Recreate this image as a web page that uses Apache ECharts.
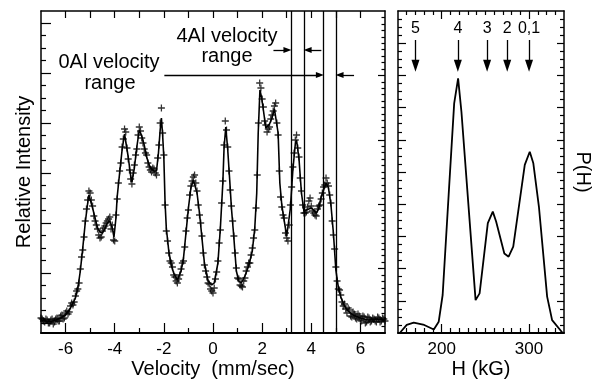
<!DOCTYPE html>
<html><head><meta charset="utf-8">
<script src="https://cdn.jsdelivr.net/npm/echarts@6/dist/echarts.min.js"></script>
<style>html,body{margin:0;padding:0;background:#fff}#c{width:595px;height:381px}</style>
</head><body><div id="c"></div>
<script>
// ---------- DATA ----------
// Left panel: Mossbauer spectrum (velocity mm/s, relative intensity in arbitrary units)
const fitCurve = [
 [-7.0,13],[-6.8,12],[-6.6,11.5],[-6.4,13],[-6.2,15],[-6.0,18],[-5.8,25],[-5.6,35],[-5.5,45],[-5.4,62],
 [-5.3,85],[-5.2,110],[-5.1,130],[-5.05,138],[-5.0,136],[-4.9,125],[-4.8,115],[-4.7,105],[-4.6,101],[-4.5,100],
 [-4.4,104],[-4.3,110],[-4.2,112],[-4.1,105],[-4.03,96],[-3.95,115],[-3.9,136],[-3.8,160],[-3.7,183],[-3.6,199],
 [-3.55,198],[-3.45,176],[-3.35,157],[-3.3,151],[-3.2,165],[-3.1,186],[-3.0,203],[-2.9,197],[-2.8,188],[-2.7,176],
 [-2.6,168],[-2.5,164],[-2.4,162],[-2.3,162],[-2.22,180],[-2.15,203],[-2.1,215],[-2.05,198],[-2.0,175],[-1.95,130],
 [-1.9,105],[-1.8,82],[-1.7,68],[-1.6,60],[-1.45,53],[-1.3,62],[-1.2,75],[-1.1,100],[-1.0,125],[-0.9,145],
 [-0.8,153],[-0.75,155],[-0.65,140],[-0.55,120],[-0.45,95],[-0.35,70],[-0.2,52],[-0.05,48],[0.05,50],[0.2,70],
 [0.3,105],[0.4,150],[0.45,185],[0.52,206],[0.6,183],[0.68,153],[0.75,125],[0.85,95],[0.95,62],[1.05,52],
 [1.15,50],[1.3,57],[1.45,67],[1.6,82],[1.7,105],[1.78,140],[1.84,200],[1.91,243],[1.98,235],[2.05,223],
 [2.15,205],[2.2,204],[2.3,209],[2.4,215],[2.5,224],[2.55,225],[2.65,200],[2.72,150],[2.8,128],[2.9,112],
 [3.0,97],[3.05,96],[3.15,125],[3.25,163],[3.35,189],[3.4,193],[3.5,174],[3.6,140],[3.7,122],[3.8,123],
 [3.9,124],[4.0,125],[4.1,123],[4.2,120],[4.3,124],[4.4,136],[4.5,143],[4.6,150],[4.7,145],[4.8,128],
 [4.9,100],[5.0,63],[5.1,46],[5.2,36],[5.35,27],[5.5,22],[5.7,18],[6.0,15],[6.3,13],[6.7,14],[7.0,13]
];
const dataPointsA = [
 [-6.95,14],[-6.85,11],[-6.75,13],[-6.65,10],[-6.55,14],[-6.45,11],[-6.35,15],[-6.25,12],[-6.15,18],[-6.05,15],
 [-5.95,22],[-5.85,21],[-5.75,30],[-5.65,31],[-5.55,42],[-5.45,50],[-5.35,76],[-5.25,96],[-5.15,124],[-5.05,142],
 [-4.95,133],[-4.85,117],[-4.75,108],[-4.65,98],[-4.55,96],[-4.45,105],[-4.35,110],[-4.25,114],[-4.15,104],[-4.05,93],
 [-3.95,118],[-3.85,150],[-3.75,170],[-3.65,194],[-3.55,201],[-3.45,174],[-3.35,154],[-3.25,160],[-3.15,178],[-3.05,198],
 [-2.95,202],[-2.85,190],[-2.75,180],[-2.65,170],[-2.55,163],[-2.45,165],[-2.35,160],[-2.25,175],[-2.15,210],[-2.05,200],
 [-1.95,128],[-1.85,92],[-1.75,72],[-1.65,66],[-1.55,56],[-1.45,50],[-1.35,58],[-1.25,70],[-1.15,86],[-1.05,115],
 [-0.95,138],[-0.85,152],[-0.75,158],[-0.65,142],[-0.55,118],[-0.45,97],[-0.35,68],[-0.25,56],[-0.15,49],[-0.05,42],
 [0.05,45],[0.15,61],[0.25,90],[0.35,130],[0.45,188],[0.55,203],[0.65,162],[0.75,127],[0.85,97],[0.95,65],
 [1.05,54],[1.15,47],[1.25,52],[1.35,62],[1.45,70],[1.55,78],[1.65,95],[1.75,125],[1.85,210],[1.95,245],
 [2.05,226],[2.15,208],[2.25,204],[2.35,214],[2.45,222],[2.55,230],[2.65,198],[2.75,136],[2.85,118],[2.95,100],
 [3.05,92],[3.15,128],[3.25,166],[3.35,193],[3.45,185],[3.55,155],[3.65,128],[3.75,120],[3.85,126],[3.95,135],
 [4.05,122],[4.15,118],[4.25,124],[4.35,128],[4.45,140],[4.55,148],[4.65,150],[4.75,138],[4.85,112],[4.95,84],
 [5.05,52],[5.15,43],[5.25,31],[5.35,29],[5.45,20],[5.55,23],[5.65,16],[5.75,19],[5.85,14],[5.95,17],
 [6.05,12],[6.15,16],[6.25,11],[6.35,15],[6.45,12],[6.55,14],[6.65,11],[6.75,15],[6.85,12],[6.95,14]
];
const dataPointsB = [
 [-7.0,15],[-6.9,12],[-6.8,14],[-6.7,10],[-6.6,13],[-6.5,9],[-6.4,14],[-6.3,12],[-6.2,17],[-6.1,14],
 [-6.0,20],[-5.9,19],[-5.8,27],[-5.7,28],[-5.6,37],[-5.5,44],[-5.4,64],[-5.3,83],[-5.2,112],[-5.1,133],
 [-5.0,140],[-4.9,127],[-4.8,112],[-4.7,104],[-4.6,95],[-4.5,102],[-4.4,107],[-4.3,112],[-4.2,116],[-4.1,108],
 [-4.0,92],[-3.9,134],[-3.8,162],[-3.7,186],[-3.6,204],[-3.5,185],[-3.4,163],[-3.3,149],[-3.2,168],[-3.1,184],
 [-3.0,206],[-2.9,195],[-2.8,184],[-2.7,178],[-2.6,166],[-2.5,161],[-2.4,164],[-2.3,158],[-2.2,188],[-2.1,225],
 [-2.0,178],[-1.9,102],[-1.8,80],[-1.7,70],[-1.6,58],[-1.5,52],[-1.4,54],[-1.3,64],[-1.2,72],[-1.1,102],
 [-1.0,123],[-0.9,147],[-0.8,156],[-0.7,150],[-0.6,128],[-0.5,110],[-0.4,80],[-0.3,62],[-0.2,50],[-0.1,44],
 [0.0,40],[0.1,54],[0.2,72],[0.3,103],[0.4,152],[0.5,212],[0.6,186],[0.7,143],[0.8,112],[0.9,80],
 [1.0,55],[1.1,48],[1.2,46],[1.3,55],[1.4,66],[1.5,70],[1.6,85],[1.7,103],[1.8,158],[1.9,250],
 [2.0,234],[2.1,212],[2.2,201],[2.3,206],[2.4,218],[2.5,227],[2.6,210],[2.7,162],[2.8,126],[2.9,115],
 [3.0,95],[3.1,108],[3.2,146],[3.3,180],[3.4,198],[3.5,176],[3.6,142],[3.7,120],[3.8,121],[3.9,132],
 [4.0,127],[4.1,120],[4.2,117],[4.3,127],[4.4,134],[4.5,146],[4.6,155],[4.7,147],[4.8,130],[4.9,98],
 [5.0,66],[5.1,44],[5.2,38],[5.3,27],[5.4,24],[5.5,25],[5.6,17],[5.7,21],[5.8,15],[5.9,19],
 [6.0,13],[6.1,17],[6.2,10],[6.3,16],[6.4,11],[6.5,15],[6.6,12],[6.7,16],[6.8,11],[6.9,15],[7.0,12]
];
const velocityRangeLines = [3.2, 3.7, 4.5, 5.0];
const velTickLabels = [-6, -4, -2, 0, 2, 4, 6];
const velMinorTicks = [-5, -3, -1, 1, 3, 5];
// annotation arrows [fromVel, toVel, intensityLevel]
const arrows4Al = [[2.46, 3.03, 283], [4.41, 3.85, 283]];
const arrows0Al = [[-1.98, 4.35, 258], [5.74, 5.15, 258]];

// Right panel: hyperfine field distribution P(H)
const hField = [152, 160, 168, 180, 191, 196.6, 201.1, 208, 214.3, 218.8, 222.6, 238.8, 243.4, 252.8, 258.5, 262.3, 271.7, 276.6, 281.9, 295.1, 300.8, 304.9, 311.3, 320.7, 326.4, 338.5];
const pH     = [0,   0.25, 0.32, 0.25, 0.11, 0.35, 1.18, 4.3, 7.13, 7.91, 6.87, 1.02, 1.23, 3.41, 3.77, 3.46, 2.47, 2.37, 2.68, 5.22, 5.63, 5.27, 3.92, 1.13, 0.40, 0];
const hTickLabels = [200, 300];
const siteH = [170, 218.5, 252, 275, 300];
const siteLabels = ['5', '4', '3', '2', '0,1'];

// ---------- CHART ----------
const FONT = '"Liberation Sans", Arial, Helvetica, sans-serif';
const BLACK = '#000';
function steps(a, b, s, exclude) {
  const out = [];
  for (let v = a; v <= b + 1e-9; v += s) {
    const r = Math.round(v * 1000) / 1000;
    if (!exclude || !exclude.some(e => Math.abs(e - r) < 1e-6)) out.push(r);
  }
  return out;
}
const noLabel = { show: false };
function axis(base, extra) { return Object.assign({ type: 'value', splitLine: { show: false }, axisLabel: noLabel, axisPointer: { show: false } }, base, extra); }
function line(show, w) { return { show: show, onZero: false, lineStyle: { color: BLACK, width: w || 1.5 } }; }
function ticks(vals, len, w) { return { show: true, inside: true, length: len, customValues: vals, lineStyle: { color: BLACK, width: w || 1.2 } }; }

const leftYMajor = steps(10, 310, 50);
const leftYMinor = steps(22.5, 322, 12.5, leftYMajor);
const rightSideMajor = steps(64.4, 257.6, 64.4);
const rightSideMinor = steps(6.44, 316, 6.44, rightSideMajor);
const hMinor = steps(160, 330, 10, hTickLabels);
const pMajor = steps(1, 9, 1);
const pMinor = steps(0.25, 9.75, 0.25, pMajor);

const xAxes = [
  axis({ gridIndex: 0, position: 'bottom', min: -7, max: 7 }, {
    axisLine: line(true, 2), axisTick: ticks(velTickLabels, 10),
    axisLabel: { show: true, customValues: velTickLabels, margin: 8, fontSize: 17, color: BLACK, fontFamily: FONT } }),
  axis({ gridIndex: 0, position: 'bottom', min: -7, max: 7 }, { axisLine: line(false), axisTick: ticks(velMinorTicks, 5) }),
  axis({ gridIndex: 0, position: 'top', min: -7, max: 7 }, { axisLine: line(true), axisTick: ticks(steps(-6, 6, 1), 7) }),
  axis({ gridIndex: 1, position: 'bottom', min: 150, max: 340 }, {
    axisLine: line(true, 2), axisTick: ticks(hTickLabels, 9),
    axisLabel: { show: true, customValues: hTickLabels, margin: 8, fontSize: 17, color: BLACK, fontFamily: FONT } }),
  axis({ gridIndex: 1, position: 'bottom', min: 150, max: 340 }, { axisLine: line(false), axisTick: ticks(hMinor, 5) }),
  axis({ gridIndex: 1, position: 'top', min: 150, max: 340 }, { axisLine: line(true), axisTick: ticks(hTickLabels, 8) }),
  axis({ gridIndex: 1, position: 'top', min: 150, max: 340 }, { axisLine: line(false), axisTick: ticks(hMinor, 4) })
];
const yAxes = [
  axis({ gridIndex: 0, position: 'left', min: 0, max: 322 }, { axisLine: line(true), axisTick: ticks(leftYMajor, 10) }),
  axis({ gridIndex: 0, position: 'left', min: 0, max: 322 }, { axisLine: line(false), axisTick: ticks(leftYMinor, 5) }),
  axis({ gridIndex: 0, position: 'right', min: 0, max: 322 }, { axisLine: line(true), axisTick: ticks(rightSideMajor, 7) }),
  axis({ gridIndex: 0, position: 'right', min: 0, max: 322 }, { axisLine: line(false), axisTick: ticks(rightSideMinor, 3.5) }),
  axis({ gridIndex: 1, position: 'left', min: 0, max: 10 }, { axisLine: line(true), axisTick: ticks(pMajor, 8) }),
  axis({ gridIndex: 1, position: 'left', min: 0, max: 10 }, { axisLine: line(false), axisTick: ticks(pMinor, 4) }),
  axis({ gridIndex: 1, position: 'right', min: 0, max: 10 }, { axisLine: line(true), axisTick: ticks(pMajor, 7) }),
  axis({ gridIndex: 1, position: 'right', min: 0, max: 10 }, { axisLine: line(false), axisTick: ticks(pMinor, 4) })
];

const arrowLines = arrows4Al.concat(arrows0Al).map(a => [
  { coord: [a[0], a[2]], symbol: 'none' },
  { coord: [a[1], a[2]], symbol: 'triangle', symbolSize: [6, 8] }
]);
const siteArrows = siteH.map((h, i) => [
  { coord: [h, 9.1], name: siteLabels[i], symbol: 'none' },
  { coord: [h, 8.3], symbol: 'triangle', symbolSize: [8, 12] }
]);

const PLUS = 'path://M4.1,0H5.9V4.1H10V5.9H5.9V10H4.1V5.9H0V4.1H4.1Z';

const option = {
  animation: false,
  backgroundColor: '#fff',
  textStyle: { fontFamily: FONT },
  grid: [
    { left: 41, top: 11, width: 344, height: 322 },
    { left: 398, top: 11, width: 166, height: 322 }
  ],
  xAxis: xAxes,
  yAxis: yAxes,
  series: [
    {
      type: 'line', xAxisIndex: 0, yAxisIndex: 0, data: fitCurve, showSymbol: false, symbol: 'none',
      lineStyle: { color: BLACK, width: 1.6 }, silent: true, z: 3,
      markLine: {
        silent: true, symbol: 'none', animation: false,
        label: { show: false },
        lineStyle: { color: BLACK, width: 1.3, type: 'solid' },
        emphasis: { disabled: true },
        data: velocityRangeLines.map(v => ({ xAxis: v }))
      }
    },
    {
      type: 'scatter', xAxisIndex: 0, yAxisIndex: 0, data: dataPointsA.concat(dataPointsB), symbol: PLUS, symbolSize: 7,
      itemStyle: { color: '#000' }, silent: true, z: 2,
      markLine: {
        silent: true, animation: false,
        label: { show: false },
        lineStyle: { color: BLACK, width: 1.3, type: 'solid' },
        itemStyle: { color: BLACK },
        emphasis: { disabled: true },
        data: arrowLines
      }
    },
    {
      type: 'line', xAxisIndex: 3, yAxisIndex: 4, data: hField.map((h, i) => [h, pH[i]]),
      showSymbol: false, symbol: 'none', lineStyle: { color: BLACK, width: 1.8 }, silent: true,
      markLine: {
        silent: true, animation: false,
        lineStyle: { color: BLACK, width: 1.3, type: 'solid' },
        itemStyle: { color: BLACK },
        emphasis: { disabled: true },
        label: { show: true, position: 'start', formatter: p => p.name, fontSize: 16, color: BLACK, fontFamily: FONT, distance: 3 },
        data: siteArrows
      }
    }
  ],
  graphic: [
    { type: 'text', silent: true, style: { text: '4Al velocity', x: 227, y: 36, align: 'center', verticalAlign: 'middle', font: '20px ' + FONT, fill: BLACK } },
    { type: 'text', silent: true, style: { text: 'range', x: 227, y: 56, align: 'center', verticalAlign: 'middle', font: '20px ' + FONT, fill: BLACK } },
    { type: 'text', silent: true, style: { text: '0Al velocity', x: 109, y: 62, align: 'center', verticalAlign: 'middle', font: '20px ' + FONT, fill: BLACK } },
    { type: 'text', silent: true, style: { text: 'range', x: 110, y: 83, align: 'center', verticalAlign: 'middle', font: '20px ' + FONT, fill: BLACK } },
    { type: 'text', silent: true, style: { text: 'Velocity  (mm/sec)', x: 213, y: 369, align: 'center', verticalAlign: 'middle', font: '20px ' + FONT, fill: BLACK } },
    { type: 'text', silent: true, style: { text: 'H (kG)', x: 481, y: 369, align: 'center', verticalAlign: 'middle', font: '20px ' + FONT, fill: BLACK } },
    { type: 'text', silent: true, x: 24, y: 172, rotation: Math.PI / 2, style: { text: 'Relative Intensity', x: 0, y: 0, align: 'center', verticalAlign: 'middle', font: '20px ' + FONT, fill: BLACK } },
    { type: 'text', silent: true, x: 583, y: 172, rotation: -Math.PI / 2, style: { text: 'P(H)', x: 0, y: 0, align: 'center', verticalAlign: 'middle', font: '20px ' + FONT, fill: BLACK } }
  ]
};
const chart = echarts.init(document.getElementById('c'));
chart.setOption(option);
</script>
</body></html>
